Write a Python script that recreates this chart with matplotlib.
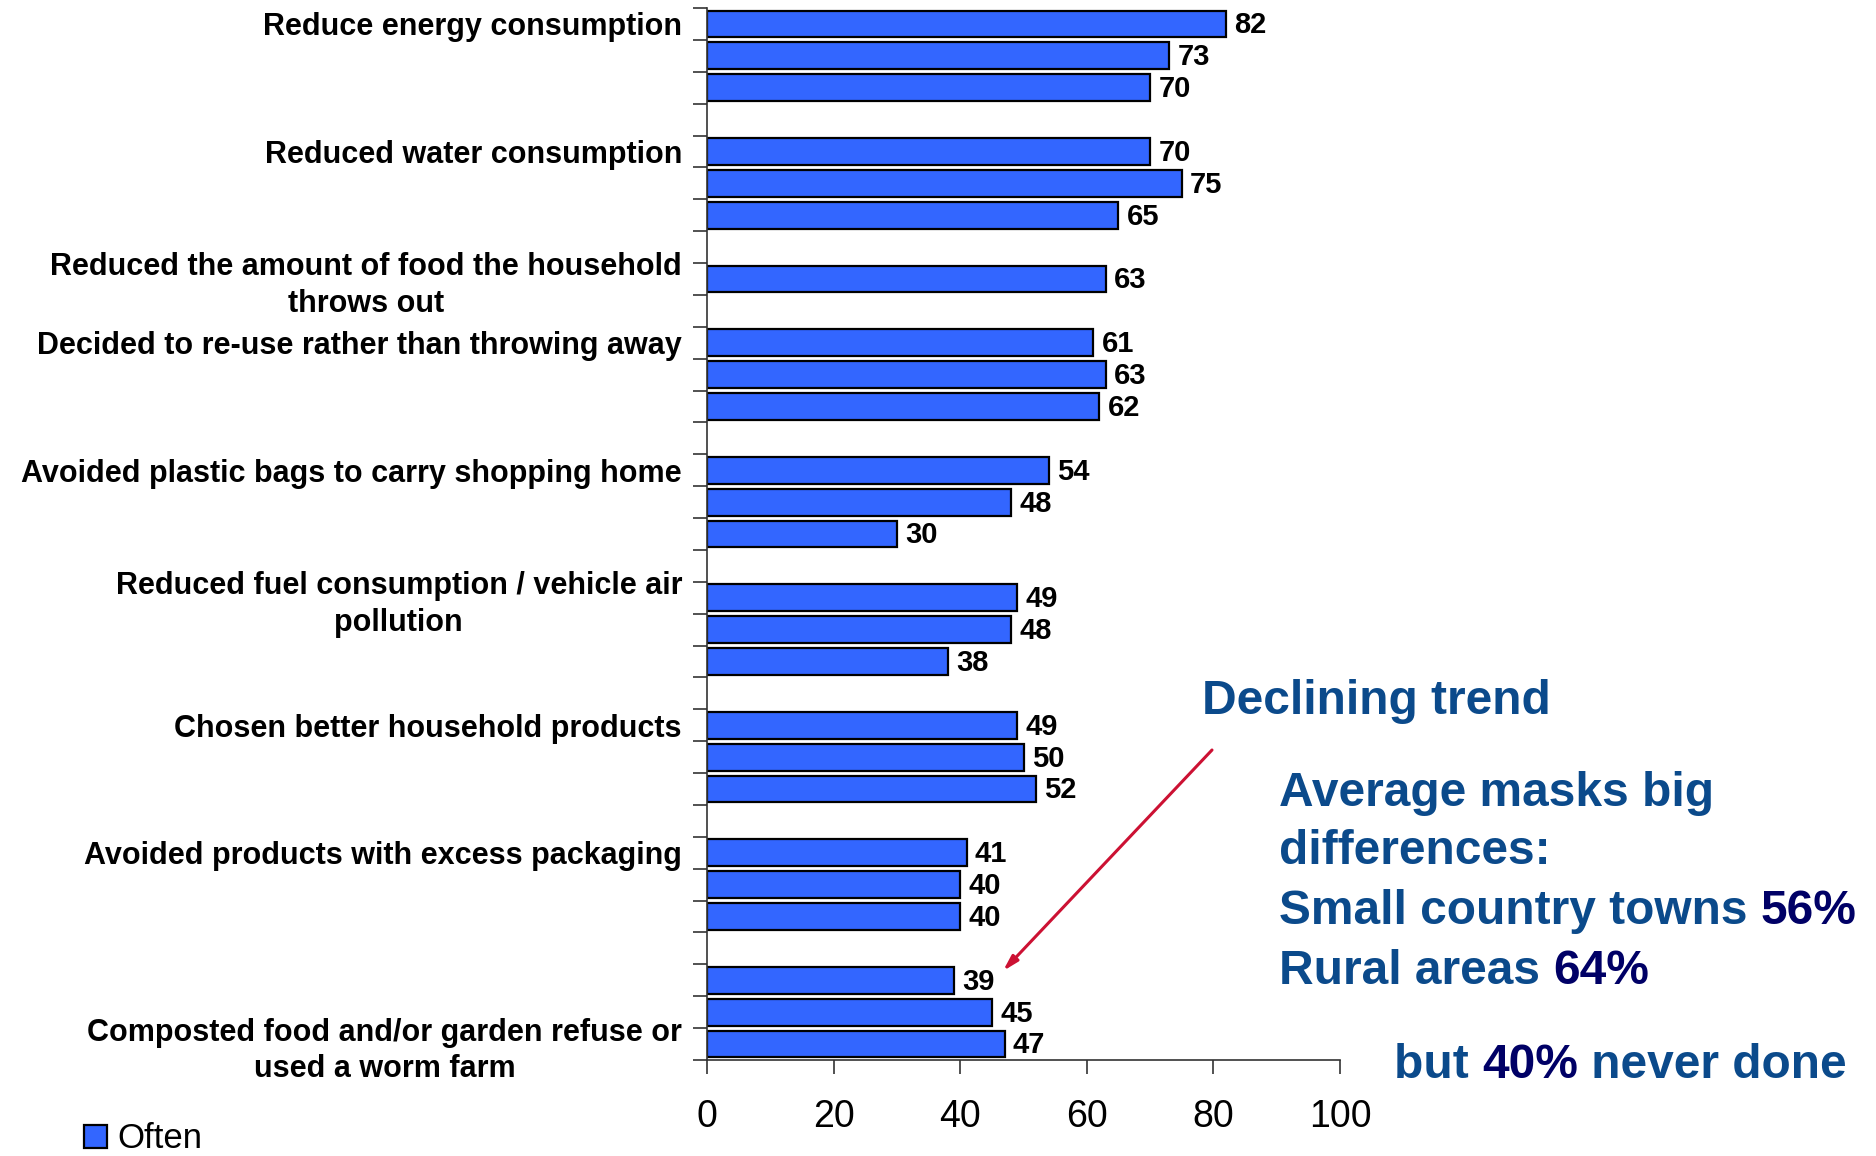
import matplotlib
matplotlib.use("Agg")
import matplotlib.pyplot as plt
from matplotlib.ticker import FixedLocator

plt.rcParams['font.family'] = ['Liberation Sans', 'DejaVu Sans']

# survey responses, % who did each action "often"
categories = [
    "Reduce energy consumption",
    "Reduced water consumption",
    "Reduced the amount of food the household\nthrows out",
    "Decided to re-use rather than throwing away",
    "Avoided plastic bags to carry shopping home",
    "Reduced fuel consumption / vehicle air\npollution",
    "Chosen better household products",
    "Avoided products with excess packaging",
    "Composted food and/or garden refuse or\nused a worm farm",
]
often = [
    [82, 73, 70],
    [70, 75, 65],
    [63],
    [61, 63, 62],
    [54, 48, 30],
    [49, 48, 38],
    [49, 50, 52],
    [41, 40, 40],
    [39, 45, 47],
]
# which bar in each group the category label sits against
label_row = [0, 0, 0, 0, 0, 0, 0, 0, 2]
xticks = [0, 20, 40, 60, 80, 100]

BAR = '#3366FF'
TXT = '#0B4A8B'
NAVY = '#000066'
ARROW = '#CC1133'

W, H = 1876, 1156
fig = plt.figure(figsize=(W / 100, H / 100), dpi=100)
ax = fig.add_axes([707 / W, 1 - 1060 / H, (1340 - 707) / W, (1060 - 8) / H])

# lay the groups out one row per bar with a blank row between groups
rows, vals, label_pos = [], [], []
pos = 0
for g, v in enumerate(often):
    label_pos.append(pos + label_row[g])
    for val in v:
        rows.append(pos)
        vals.append(val)
        pos += 1
    pos += 1
nrows = pos - 1

bars = ax.barh(rows, vals, height=0.84, color=BAR, edgecolor='black',
               linewidth=1.6, label='Often')
for r, val in zip(rows, vals):
    ax.annotate(str(val), (val, r), xytext=(6, -1), textcoords='offset points',
                ha='left', va='center', fontsize=21, fontweight='bold')

ax.set_xlim(0, 100)
ax.set_ylim(nrows - 0.5, -0.5)
ax.set_xticks(xticks)
ax.tick_params(axis='x', length=10, width=1.2, labelsize=27, pad=18,
               color='#333333')

# tick marks between rows, labels at row centres
ax.yaxis.set_major_locator(FixedLocator([i - 0.5 for i in range(nrows + 1)]))
ax.yaxis.set_major_formatter(plt.NullFormatter())
ax.yaxis.set_minor_locator(FixedLocator(label_pos))
ax.set_yticklabels(categories, minor=True, fontsize=22, fontweight='bold',
                   multialignment='center', linespacing=1.28)
ax.tick_params(axis='y', which='major', direction='out', length=10,
               width=1.2, color='#333333')
ax.tick_params(axis='y', which='minor', length=0, pad=18)

for s in ['top', 'right']:
    ax.spines[s].set_visible(False)
for s in ['left', 'bottom']:
    ax.spines[s].set_color('#333333')
    ax.spines[s].set_linewidth(1.2)

ax.legend(loc='center left', bbox_to_anchor=(84 / W, 1 - 1139 / H),
          bbox_transform=fig.transFigure, frameon=False, fontsize=25,
          handlelength=0.65, handleheight=0.65, handletextpad=0.3,
          borderpad=0, borderaxespad=0)

# side notes
fs = 34.5
fig.text(1202 / W, 1 - 702 / H, "Declining trend", color=TXT, fontsize=fs,
         fontweight='bold', va='center', ha='left')
fig.text(1279 / W, 1 - 794 / H, "Average masks big", color=TXT, fontsize=fs,
         fontweight='bold', va='center', ha='left')
fig.text(1279 / W, 1 - 852 / H, "differences:", color=TXT, fontsize=fs,
         fontweight='bold', va='center', ha='left')


def two_tone(x, y, first, second):
    t = fig.text(x / W, 1 - y / H, first, color=TXT, fontsize=fs,
                 fontweight='bold', va='center', ha='left')
    ax.annotate(second, xy=(1, 0), xycoords=t, va='bottom', ha='left',
                color=NAVY, fontsize=fs, fontweight='bold',
                annotation_clip=False)
    return t


two_tone(1279, 911, "Small country towns ", "56%")
two_tone(1279, 971, "Rural areas ", "64%")
t = fig.text(1394 / W, 1 - 1065 / H, "but ", color=TXT, fontsize=fs,
             fontweight='bold', va='center', ha='left')
t2 = ax.annotate("40%", xy=(1, 0), xycoords=t, va='bottom', ha='left',
                 color=NAVY, fontsize=fs, fontweight='bold',
                 annotation_clip=False)
ax.annotate(" never done", xy=(1, 0), xycoords=t2, va='bottom', ha='left',
            color=TXT, fontsize=fs, fontweight='bold', annotation_clip=False)

# arrow pointing at the composting bar
ax.annotate('', xy=(1003 / W, 1 - 971 / H), xytext=(1212 / W, 1 - 750 / H),
            xycoords='figure fraction', textcoords='figure fraction',
            arrowprops=dict(arrowstyle='-|>,head_length=0.9,head_width=0.25',
                            color=ARROW, lw=2.2, shrinkA=0, shrinkB=0),
            annotation_clip=False)

fig.savefig('out.png', dpi=100)
